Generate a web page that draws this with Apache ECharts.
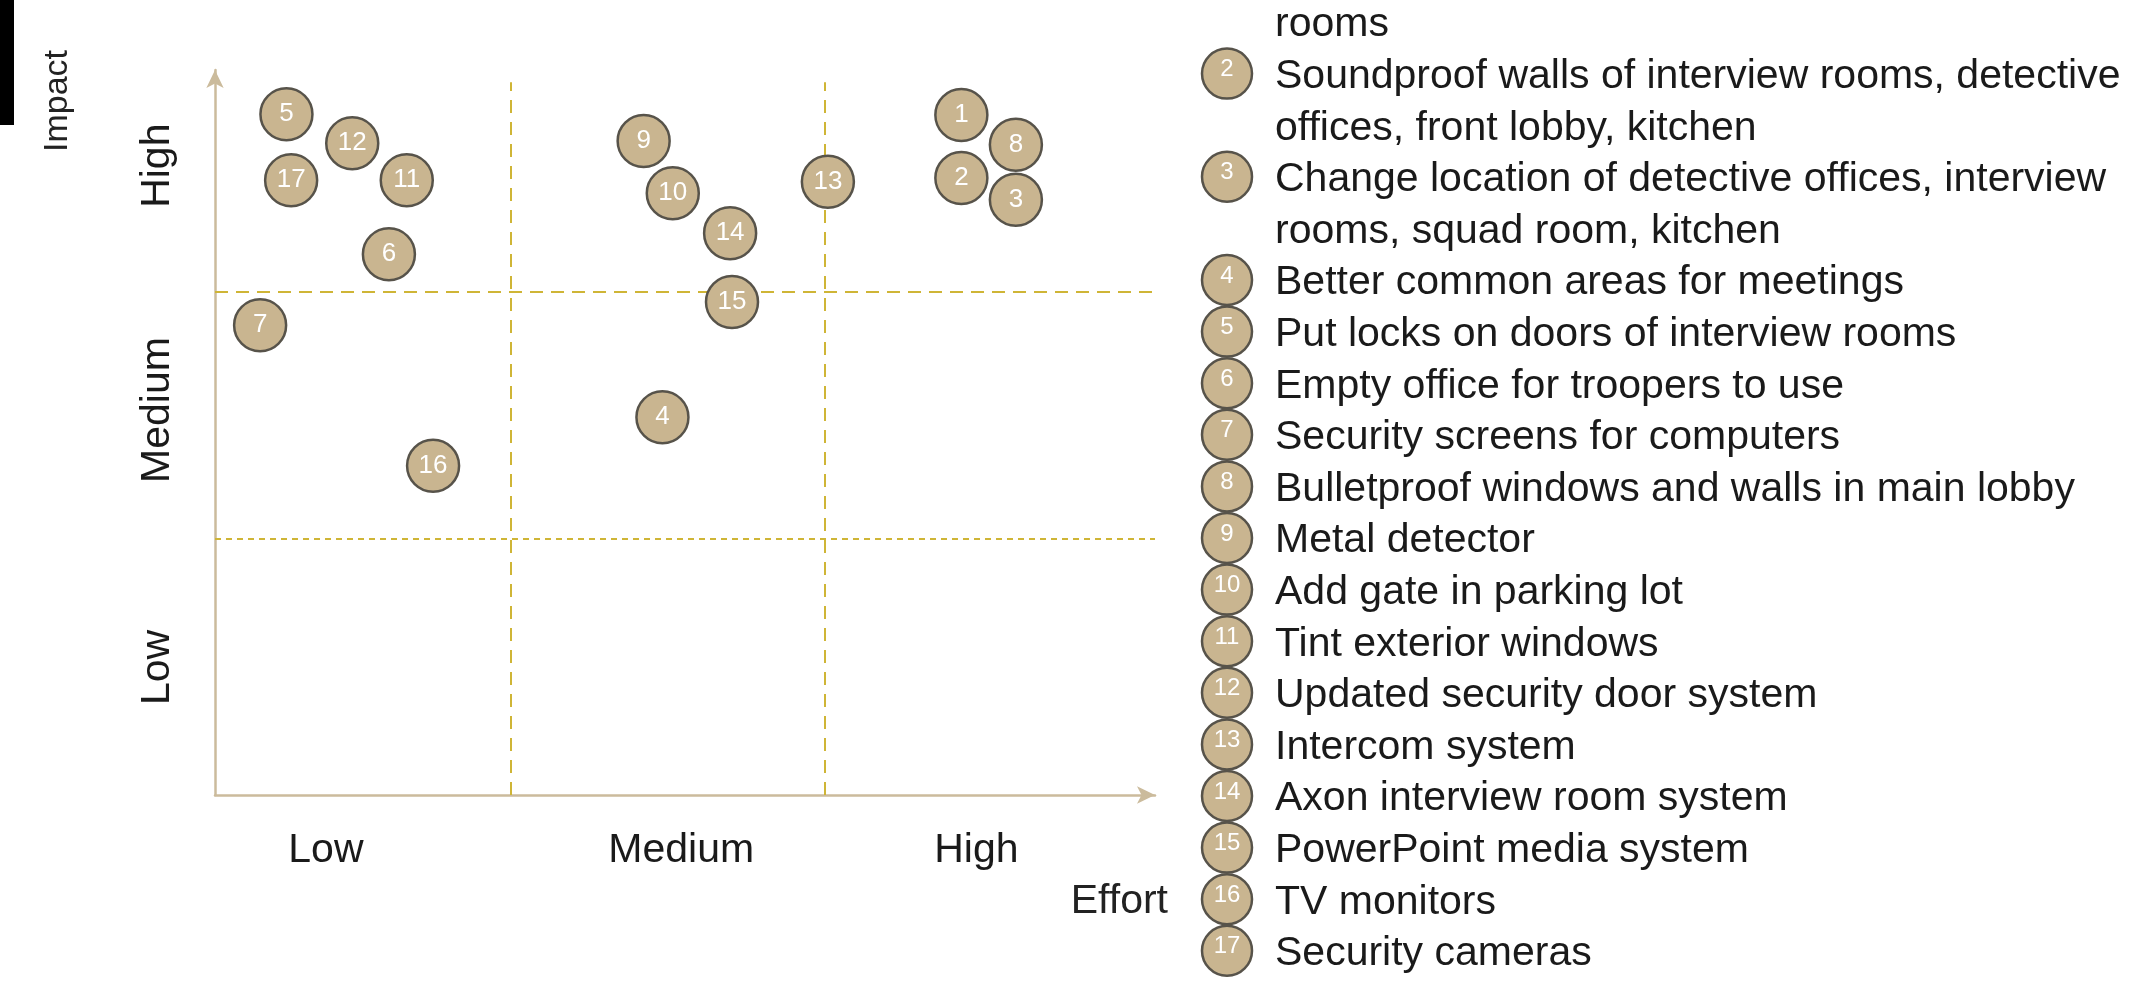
<!DOCTYPE html>
<html>
<head>
<meta charset="utf-8">
<script src="https://cdn.jsdelivr.net/npm/echarts@6/dist/echarts.min.js"></script>
<style>
  html, body { margin: 0; padding: 0; background: #fff; }
  #main { width: 2149px; height: 982px; }
</style>
</head>
<body>
<div id="main"></div>
<script>
// bubble number, effort (0-100), impact (0-100)
var itemNums = [1, 2, 3, 4, 5, 6, 7, 8, 9, 10, 11, 12, 13, 14, 15, 16, 17];
var effort   = [79.4, 79.4, 85.2, 47.6, 7.6, 18.5, 4.8, 85.2, 45.6, 48.7, 20.4, 14.6, 65.2, 54.8, 55.0, 23.2, 8.1];
var impact   = [93.8, 85.1, 82.1, 52.1, 93.9, 74.6, 64.8, 89.7, 90.2, 83.0, 84.8, 89.9, 84.6, 77.5, 68.0, 45.4, 84.8];

var levelNames = ['Low', 'Medium', 'High'];
var xLabelPos = [11.8, 49.6, 81.0];
var yLabelPos = [17.6, 53.1, 86.8];

// quadrant dividers
var xDividers = [31.5, 64.9];
var yDividers = [69.4, 35.3];

// legend text (item 1 first line is cut off above the picture)
var legendItems = [
  ['', 'rooms'],
  ['Soundproof walls of interview rooms, detective', 'offices, front lobby, kitchen'],
  ['Change location of detective offices, interview', 'rooms, squad room, kitchen'],
  ['Better common areas for meetings'],
  ['Put locks on doors of interview rooms'],
  ['Empty office for troopers to use'],
  ['Security screens for computers'],
  ['Bulletproof windows and walls in main lobby'],
  ['Metal detector'],
  ['Add gate in parking lot'],
  ['Tint exterior windows'],
  ['Updated security door system'],
  ['Intercom system'],
  ['Axon interview room system'],
  ['PowerPoint media system'],
  ['TV monitors'],
  ['Security cameras']
];

var FONT = '"Liberation Sans", Arial, sans-serif';
var BUBBLE = '#c9b590';
var BUBBLE_EDGE = '#57534a';
var AXIS = '#cbbb9c';
var DASH = '#cfb536';

var chart = echarts.init(document.getElementById('main'), null, { renderer: 'canvas' });

var points = itemNums.map(function (n, i) {
  return [effort[i], impact[i], n];
});

var dividerLines = [];
xDividers.forEach(function (x) {
  dividerLines.push([{ coord: [x, 0] }, { coord: [x, 98.3], lineStyle: { type: [13, 9] } }]);
});
yDividers.forEach(function (y, i) {
  dividerLines.push([{ coord: [0, y] }, { coord: [100, y], lineStyle: { type: i === 0 ? [13, 8] : [6, 5] } }]);
});

function levelLabel(positions) {
  return function (v) {
    for (var i = 0; i < positions.length; i++) {
      if (Math.abs(positions[i] - v) < 0.01) return levelNames[i];
    }
    return '';
  };
}

// legend graphics
var graphics = [
  { type: 'rect', shape: { x: 0, y: 0, width: 14, height: 125 }, style: { fill: '#000' }, silent: true },
  {
    type: 'text', x: 58, y: 101, rotation: Math.PI / 2, silent: true,
    style: { text: 'Impact', font: '34px ' + FONT, fill: '#222', textAlign: 'center', textVerticalAlign: 'middle' }
  },
  {
    type: 'text', x: 1168, y: 902, silent: true,
    style: { text: 'Effort', font: '41px ' + FONT, fill: '#222', textAlign: 'right', textVerticalAlign: 'middle' }
  }
];
var lineH = 51.6;
var line = -1;
legendItems.forEach(function (lines, i) {
  var cy = 25 + line * lineH;
  graphics.push({
    type: 'circle', silent: true, z: 10 + i,
    shape: { cx: 1227, cy: cy - 3, r: 25 },
    style: { fill: BUBBLE, stroke: BUBBLE_EDGE, lineWidth: 2.5 }
  });
  graphics.push({
    type: 'text', silent: true, z: 30,
    x: 1227, y: cy - 7,
    style: { text: String(i + 1), font: '24px ' + FONT, fill: '#fff', textAlign: 'center', textVerticalAlign: 'middle' }
  });
  lines.forEach(function (t, k) {
    graphics.push({
      type: 'text', silent: true,
      x: 1275, y: cy + k * lineH,
      style: { text: t, font: '41px ' + FONT, fill: '#1a1a1a', textAlign: 'left', textVerticalAlign: 'middle' }
    });
  });
  line += lines.length;
});

var option = {
  backgroundColor: '#fff',
  animation: false,
  grid: { left: 215, right: 994, top: 70, bottom: 187 },
  xAxis: {
    type: 'value',
    min: 0,
    max: 100,
    splitLine: { show: false },
    axisTick: { show: false },
    axisLine: {
      show: true,
      symbol: ['none', 'arrow'],
      symbolSize: [13, 18],
      lineStyle: { color: AXIS, width: 2.5 }
    },
    axisLabel: {
      customValues: xLabelPos,
      formatter: levelLabel(xLabelPos),
      margin: 35,
      fontFamily: FONT,
      fontSize: 41,
      color: '#1a1a1a'
    }
  },
  yAxis: {
    type: 'value',
    min: 0,
    max: 100,
    splitLine: { show: false },
    axisTick: { show: false },
    axisLine: {
      show: true,
      symbol: ['none', 'arrow'],
      symbolSize: [13, 18],
      lineStyle: { color: AXIS, width: 2.5 }
    },
    axisLabel: {
      customValues: yLabelPos,
      formatter: levelLabel(yLabelPos),
      rotate: 90,
      margin: 37,
      fontFamily: FONT,
      fontSize: 41,
      color: '#1a1a1a'
    }
  },
  graphic: graphics,
  series: [{
    type: 'scatter',
    data: points,
    symbolSize: 52,
    itemStyle: { color: BUBBLE, borderColor: BUBBLE_EDGE, borderWidth: 2.5, opacity: 1 },
    label: {
      show: true,
      position: 'inside',
      formatter: function (p) { return p.value[2]; },
      color: '#fff',
      fontFamily: FONT,
      fontSize: 26
    },
    z: 5,
    markLine: {
      silent: true,
      symbol: 'none',
      label: { show: false },
      lineStyle: { color: DASH, width: 2, type: [13, 9] },
      data: dividerLines,
      z: 1
    }
  }]
};

chart.setOption(option);
</script>
</body>
</html>
